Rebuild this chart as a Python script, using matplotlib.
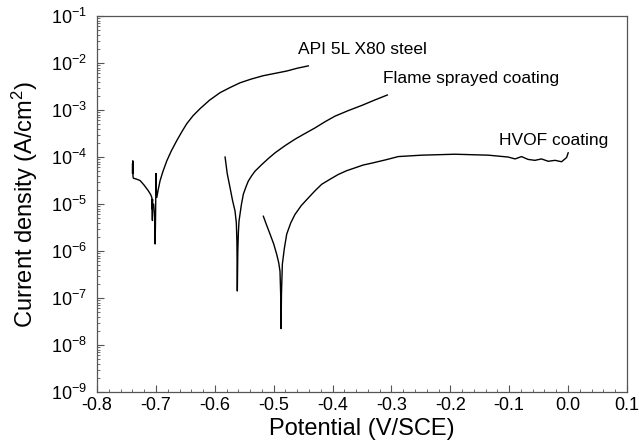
"""
Potentiodynamic polarization curves: X80 steel vs. flame sprayed and HVOF coatings
"""

import numpy as np
import matplotlib.pyplot as plt
from matplotlib.ticker import MultipleLocator, FixedLocator

plt.rcParams["font.family"] = ["Liberation Sans", "DejaVu Sans"]
plt.rcParams["mathtext.default"] = "regular"

# potential (V/SCE) and log10 of current density (A/cm2)
steel_v = [-0.7400, -0.7398, -0.7394, -0.7390, -0.7384, -0.7330, -0.7270, -0.7200,
           -0.7129, -0.7090, -0.7071, -0.7065, -0.7061, -0.7058, -0.7068, -0.7040,
           -0.7022, -0.7015, -0.7010, -0.7005, -0.7000, -0.6998, -0.6986, -0.6960,
           -0.6930, -0.6880, -0.6816, -0.6740, -0.6647, -0.6560, -0.6477, -0.6370,
           -0.6251, -0.6090, -0.5911, -0.5740, -0.5572, -0.5380, -0.5181, -0.4980,
           -0.4779, -0.4600, -0.4412]
steel_logj = [-4.15, -4.35, -4.08, -4.42, -4.45, -4.47, -4.50, -4.60,
              -4.72, -4.80, -4.86, -5.00, -5.35, -4.90, -5.10, -5.00,
              -5.30, -5.85, -5.50, -5.00, -4.35, -4.60, -4.86, -4.68,
              -4.50, -4.30, -4.08, -3.87, -3.65, -3.46, -3.29, -3.12,
              -2.97, -2.79, -2.63, -2.52, -2.42, -2.34, -2.27, -2.22,
              -2.17, -2.11, -2.06]

flame_v = [-0.5826, -0.5790, -0.5742, -0.5700, -0.5657, -0.5635, -0.5625, -0.5618,
           -0.5610, -0.5600, -0.5589, -0.5550, -0.5516, -0.5470, -0.5431, -0.5370,
           -0.5317, -0.5203, -0.5090, -0.4977, -0.4810, -0.4638, -0.4470, -0.4298,
           -0.4130, -0.3959, -0.3730, -0.3500, -0.3290, -0.3070]
flame_logj = [-4.00, -4.35, -4.65, -4.92, -5.15, -5.40, -5.80, -6.85,
              -6.00, -5.60, -5.36, -5.02, -4.79, -4.63, -4.51, -4.39,
              -4.30, -4.16, -4.03, -3.91, -3.76, -3.62, -3.50, -3.38,
              -3.25, -3.13, -3.01, -2.90, -2.79, -2.68]

hvof_v = [-0.5176, -0.5120, -0.5062, -0.5000, -0.4949, -0.4915, -0.4893, -0.4882,
          -0.4875, -0.4868, -0.4853, -0.4820, -0.4779, -0.4710, -0.4638, -0.4530,
          -0.4412, -0.4300, -0.4185, -0.4040, -0.3902, -0.3760, -0.3619, -0.3480,
          -0.3335, -0.3100, -0.2884, -0.2486, -0.1921, -0.1355, -0.1016, -0.0900,
          -0.0789, -0.0680, -0.0562, -0.0450, -0.0336, -0.0220, -0.0109, -0.0024,
          0.0003]
hvof_logj = [-5.26, -5.45, -5.64, -5.85, -6.07, -6.25, -6.43, -6.90,
             -7.65, -6.90, -6.28, -5.95, -5.64, -5.40, -5.22, -5.03,
             -4.87, -4.72, -4.58, -4.47, -4.37, -4.29, -4.23, -4.17,
             -4.13, -4.06, -3.99, -3.96, -3.94, -3.96, -4.00, -4.04,
             -3.99, -4.05, -4.07, -4.04, -4.09, -4.07, -4.10, -4.01,
             -3.91]

x_ticks = [-0.8, -0.7, -0.6, -0.5, -0.4, -0.3, -0.2, -0.1, 0.0, 0.1]
y_decades = [-9, -8, -7, -6, -5, -4, -3, -2, -1]

fig = plt.figure(figsize=(6.39, 4.46), dpi=100)
ax = fig.add_axes([0.152, 0.121, 0.829, 0.843])

for v, lj in [(steel_v, steel_logj), (flame_v, flame_logj), (hvof_v, hvof_logj)]:
    ax.plot(v, 10 ** np.array(lj), color="black", linewidth=1.0)

ax.text(-0.459, 10 ** -1.72, "API 5L X80 steel", fontsize=12.5, va="center")
ax.text(-0.314, 10 ** -2.32, "Flame sprayed coating", fontsize=12.5, va="center")
ax.text(-0.117, 10 ** -3.64, "HVOF coating", fontsize=12.5, va="center")

ax.set_yscale("log")
ax.set_xlim(-0.8, 0.1)
ax.set_ylim(1e-9, 1e-1)
ax.set_xticks(x_ticks)
ax.set_xticklabels([f"{t:.1f}" for t in x_ticks])
ax.xaxis.set_minor_locator(MultipleLocator(0.02))
ax.set_yticks([10.0 ** d for d in y_decades])
ax.set_yticklabels([f"$10^{{{d}}}$" for d in y_decades])
ax.yaxis.set_minor_locator(FixedLocator([m * 10.0 ** d for d in y_decades[:-1] for m in range(2, 10)]))
ax.yaxis.set_minor_formatter(plt.NullFormatter())

ax.tick_params(which="both", direction="in", top=False, right=False,
               labelsize=13, color="#555555")
ax.tick_params(which="major", length=5)
ax.tick_params(which="minor", length=2.5)
ax.tick_params(axis="y", pad=7)
for s in ax.spines.values():
    s.set_color("#555555")
    s.set_linewidth(0.9)

ax.set_xlabel("Potential (V/SCE)", fontsize=17, labelpad=3)
ax.set_ylabel("Current density (A/cm$^2$)", fontsize=17, labelpad=8)

plt.savefig("out.png", dpi=100)
